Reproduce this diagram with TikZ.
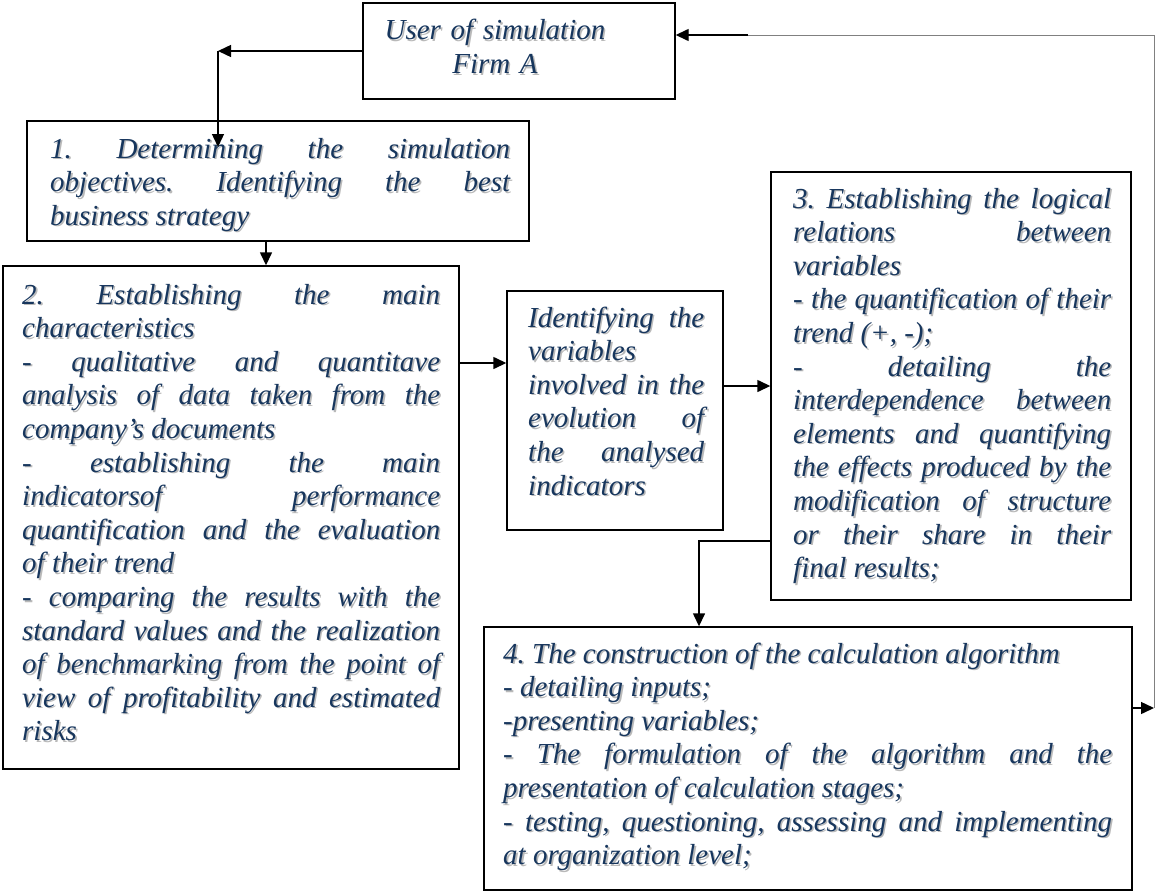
\documentclass[tikz,border=0pt]{standalone}
\usepackage{fontspec}
\setmainfont{Liberation Serif}
\usetikzlibrary{arrows.meta}
\definecolor{ink}{RGB}{23,54,93}
\definecolor{inkshade}{RGB}{185,185,185}
\tolerance=9999
\hbadness=10000
\frenchspacing
\tikzset{
  frame/.style={draw, line width=1.4pt, inner sep=0pt},
  blurb/.style={inner sep=0pt, anchor=base west, align=justify, text=ink,
    font=\itshape\fontsize{29pt}{33.6pt}\selectfont},
  arr/.style={line width=1.4pt, -{Triangle[length=13pt,width=12pt]}},
  loopline/.style={line width=0.7pt, gray}
}
% text with a soft grey copy behind it
\newcommand{\shadedtext}[4][]{%
  \node[blurb, #1, text=inkshade, xshift=1.6pt, yshift=-1.6pt] (#2-sh) at (#3) {#4};
  \node[blurb, #1] (#2) at (#3) {#4};
}

\begin{document}
\begin{tikzpicture}[x=1pt, y=-1pt]
\useasboundingbox (0,0) rectangle (1155,891);

% boxes
\node[frame, minimum width=312pt, minimum height=96pt] (user) at (519,51) {};
\node[frame, minimum width=502pt, minimum height=120pt] (s1) at (278,181) {};
\node[frame, minimum width=456pt, minimum height=503pt] (s2) at (231,517.5) {};
\node[frame, minimum width=216pt, minimum height=239pt] (vars) at (615,410.5) {};
\node[frame, minimum width=360pt, minimum height=428pt] (s3) at (951,386) {};
\node[frame, minimum width=648pt, minimum height=263pt] (s4) at (808,758.5) {};

% texts
\shadedtext[anchor=base, align=center, text width=260pt]{user-t}{495,40}{User of simulation\par Firm A}
\shadedtext[text width=460pt]{s1-t}{50,158}{1. Determining the simulation\linebreak
  objectives. Identifying the best\linebreak business strategy}
\shadedtext[text width=418pt]{s2-t}{22,304}{2. Establishing the main\linebreak characteristics\par
  - qualitative and quantitave\linebreak analysis of data taken from the\linebreak company’s documents\par
  - establishing the main\linebreak indicatorsof performance\linebreak quantification and the evaluation\linebreak of their trend\par
  - comparing the results with the\linebreak standard values and the realization\linebreak
  of benchmarking from the point of\linebreak view of profitability and estimated\linebreak risks}
\shadedtext[text width=176pt]{vars-t}{528,327}{Identifying the\linebreak variables\linebreak
  involved in the\linebreak evolution of\linebreak the analysed\linebreak indicators}
\shadedtext[text width=318pt]{s3-t}{793,208}{3. Establishing the logical\linebreak relations between\linebreak variables\par
  - the quantification of their\linebreak trend (+, -);\par
  - detailing the\linebreak interdependence between\linebreak elements and quantifying\linebreak
  the effects produced by the\linebreak modification of structure\linebreak or their share in their\linebreak final results;}
\shadedtext[text width=609pt]{s4-t}{503,663}{4. The construction of the calculation algorithm\par
  - detailing inputs;\par
  -presenting variables;\par
  - The formulation of the algorithm and the\linebreak presentation of calculation stages;\par
  - testing, questioning, assessing and implementing\linebreak at organization level;}

% connectors
\coordinate (ul) at (218,51);
\coordinate (ud) at (218,147);
\draw[arr] (user.west) -- (ul);
\draw[arr] (ul) -- (ud);
\draw[arr] ([xshift=-12pt]s1.south) -- ([xshift=-12pt]s1.south |- s2.north);
\draw[arr] (s2.east |- 0,363) -- (vars.west |- 0,363);
\draw[arr] (vars.east |- s3.west) -- (s3.west);
\draw[arr] (s3.west |- 0,541) -| (s4.north -| 699,0);
% feedback loop back to the user
\coordinate (lb) at (1154,708);
\coordinate (lt) at (1154,35);
\coordinate (le) at (748,35);
\draw[arr] (s4.east |- lb) -- (lb);
\draw[loopline] (lb) -- (lt) -- (le);
\draw[arr] (le) -- (user.east |- le);
\end{tikzpicture}
\end{document}
